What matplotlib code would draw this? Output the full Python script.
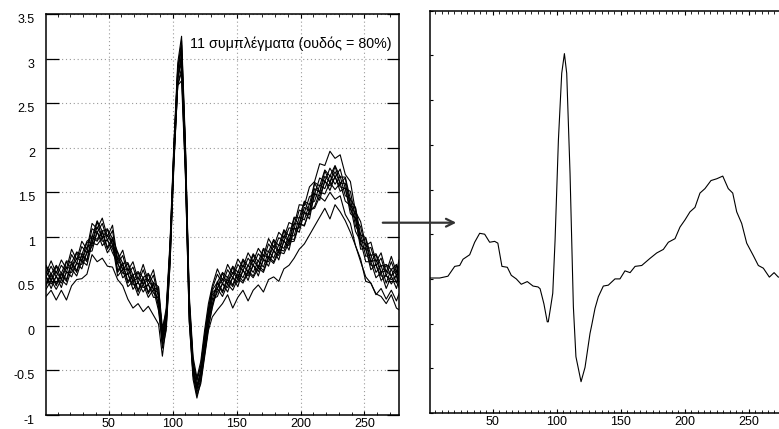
import matplotlib
matplotlib.use("Agg")
import matplotlib.pyplot as plt
from matplotlib.ticker import FixedLocator, FixedFormatter, MultipleLocator

plt.rcParams['font.family'] = ['Liberation Sans', 'DejaVu Sans']

# common sample positions for the 11 beats
x_grid = [1, 5, 9, 13, 17, 21, 25, 29, 33, 37, 41, 45, 49, 53, 57, 61, 65, 69, 73, 77, 81, 85, 89,
          92, 95, 98, 101, 104, 107, 110, 113, 116, 119, 122, 125, 128, 131,
          135, 139, 143, 147, 151, 155, 159, 163, 167, 171, 175, 179, 183, 187, 191, 195, 199, 203,
          207, 211, 215, 219, 223, 227, 231, 235, 239, 243, 247, 251, 255, 259, 263, 267, 271, 275, 277]

beat_1 = [0.61, 0.51, 0.61, 0.52, 0.66, 0.64, 0.76, 0.73, 0.88, 0.93, 1.11, 0.99, 1.02, 0.91, 0.76, 0.63, 0.64, 0.50, 0.54, 0.47, 0.52, 0.41, 0.37,
          -0.08, 0.12, 0.90, 2.00, 2.90, 3.10, 1.95, 0.25, -0.45, -0.70, -0.50, -0.15, 0.15, 0.35,
          0.42, 0.53, 0.47, 0.60, 0.53, 0.68, 0.60, 0.74, 0.65, 0.80, 0.76, 0.90, 0.83, 1.01, 0.94, 1.15, 1.14, 1.33, 1.29,
          1.54, 1.50, 1.68, 1.61, 1.73, 1.60, 1.60, 1.35, 1.26, 0.95, 0.92, 0.72, 0.74, 0.60, 0.62, 0.56, 0.62, 0.52]
beat_2 = [0.55, 0.67, 0.55, 0.68, 0.60, 0.80, 0.70, 0.89, 0.82, 1.09, 1.05, 1.15, 0.96, 1.07, 0.70, 0.79, 0.58, 0.66, 0.48, 0.63, 0.46, 0.57, 0.31,
          -0.15, 0.05, 0.80, 1.90, 2.75, 3.05, 2.00, 0.30, -0.40, -0.62, -0.45, -0.10, 0.20, 0.42,
          0.58, 0.47, 0.63, 0.54, 0.69, 0.62, 0.76, 0.68, 0.81, 0.74, 0.92, 0.84, 0.99, 0.95, 1.10, 1.09, 1.30, 1.27, 1.45,
          1.48, 1.66, 1.62, 1.77, 1.67, 1.76, 1.54, 1.51, 1.20, 1.11, 0.86, 0.88, 0.68, 0.76, 0.56, 0.72, 0.56, 0.68]
beat_3 = [0.55, 0.47, 0.55, 0.48, 0.60, 0.60, 0.70, 0.69, 0.82, 0.89, 1.05, 0.95, 0.96, 0.87, 0.70, 0.59, 0.58, 0.46, 0.48, 0.43, 0.46, 0.37, 0.31,
          -0.10, 0.10, 0.85, 1.95, 2.80, 2.95, 1.80, 0.15, -0.50, -0.68, -0.55, -0.25, 0.05, 0.25,
          0.38, 0.47, 0.43, 0.54, 0.49, 0.62, 0.56, 0.68, 0.61, 0.74, 0.72, 0.84, 0.79, 0.95, 0.90, 1.09, 1.10, 1.27, 1.25,
          1.48, 1.46, 1.62, 1.57, 1.67, 1.56, 1.54, 1.31, 1.20, 0.91, 0.86, 0.68, 0.68, 0.56, 0.56, 0.52, 0.56, 0.48]
beat_4 = [0.59, 0.73, 0.59, 0.74, 0.64, 0.86, 0.74, 0.95, 0.86, 1.15, 1.09, 1.21, 1.00, 1.13, 0.74, 0.85, 0.62, 0.72, 0.52, 0.69, 0.50, 0.63, 0.35,
          -0.05, 0.20, 0.95, 2.05, 2.95, 3.25, 2.05, 0.35, -0.35, -0.58, -0.40, -0.05, 0.25, 0.45,
          0.64, 0.51, 0.69, 0.58, 0.75, 0.66, 0.82, 0.72, 0.87, 0.78, 0.98, 0.88, 1.05, 0.99, 1.16, 1.13, 1.36, 1.35, 1.56,
          1.62, 1.82, 1.80, 1.96, 1.88, 1.92, 1.70, 1.62, 1.28, 1.17, 0.90, 0.94, 0.72, 0.82, 0.60, 0.78, 0.60, 0.74]
beat_5 = [0.41, 0.51, 0.41, 0.52, 0.46, 0.64, 0.56, 0.73, 0.68, 0.93, 0.91, 0.99, 0.82, 0.91, 0.56, 0.63, 0.44, 0.50, 0.34, 0.47, 0.32, 0.41, 0.17,
          -0.20, 0.00, 0.75, 1.85, 2.70, 2.85, 1.75, 0.10, -0.55, -0.75, -0.60, -0.30, 0.00, 0.20,
          0.42, 0.33, 0.47, 0.40, 0.53, 0.48, 0.60, 0.54, 0.65, 0.60, 0.76, 0.70, 0.83, 0.81, 0.94, 0.95, 1.14, 1.13, 1.29,
          1.34, 1.50, 1.48, 1.61, 1.53, 1.60, 1.40, 1.35, 1.06, 0.95, 0.72, 0.72, 0.54, 0.60, 0.42, 0.56, 0.42, 0.52]
beat_6 = [0.67, 0.51, 0.67, 0.52, 0.72, 0.64, 0.82, 0.73, 0.94, 0.93, 1.17, 0.99, 1.08, 0.91, 0.82, 0.63, 0.70, 0.50, 0.60, 0.47, 0.58, 0.41, 0.43,
          -0.02, 0.15, 0.90, 2.00, 2.85, 3.15, 1.95, 0.25, -0.45, -0.72, -0.52, -0.18, 0.12, 0.38,
          0.42, 0.59, 0.47, 0.66, 0.53, 0.74, 0.60, 0.80, 0.65, 0.86, 0.76, 0.96, 0.83, 1.07, 0.94, 1.21, 1.14, 1.39, 1.29,
          1.60, 1.50, 1.74, 1.61, 1.79, 1.60, 1.66, 1.35, 1.32, 0.95, 0.98, 0.72, 0.80, 0.60, 0.68, 0.56, 0.68, 0.52]
beat_7 = [0.47, 0.59, 0.47, 0.60, 0.52, 0.72, 0.62, 0.81, 0.74, 1.01, 0.97, 1.07, 0.88, 0.99, 0.62, 0.71, 0.50, 0.58, 0.40, 0.55, 0.38, 0.49, 0.23,
          -0.25, -0.05, 0.70, 1.80, 2.70, 2.90, 1.70, 0.05, -0.60, -0.81, -0.62, -0.32, -0.02, 0.22,
          0.50, 0.39, 0.55, 0.46, 0.61, 0.54, 0.68, 0.60, 0.73, 0.66, 0.84, 0.76, 0.91, 0.87, 1.02, 1.01, 1.22, 1.19, 1.37,
          1.40, 1.58, 1.54, 1.69, 1.59, 1.68, 1.46, 1.43, 1.12, 1.03, 0.78, 0.80, 0.60, 0.68, 0.48, 0.64, 0.48, 0.60]
beat_8 = [0.68, 0.58, 0.68, 0.59, 0.73, 0.71, 0.83, 0.80, 0.95, 1.00, 1.18, 1.06, 1.09, 0.98, 0.83, 0.70, 0.71, 0.57, 0.61, 0.54, 0.59, 0.48, 0.44,
          -0.12, 0.12, 0.88, 1.98, 2.88, 3.20, 2.00, 0.28, -0.42, -0.60, -0.45, -0.12, 0.18, 0.40,
          0.49, 0.60, 0.54, 0.67, 0.60, 0.75, 0.67, 0.81, 0.72, 0.87, 0.83, 0.97, 0.90, 1.08, 1.01, 1.22, 1.21, 1.40, 1.36,
          1.61, 1.57, 1.75, 1.68, 1.80, 1.67, 1.67, 1.42, 1.33, 1.02, 0.99, 0.79, 0.81, 0.67, 0.69, 0.63, 0.69, 0.59]
beat_9 = [0.56, 0.42, 0.56, 0.43, 0.61, 0.55, 0.71, 0.64, 0.83, 0.84, 1.06, 0.90, 0.97, 0.82, 0.71, 0.54, 0.59, 0.41, 0.49, 0.38, 0.47, 0.32, 0.32,
          -0.18, 0.05, 0.80, 1.90, 2.78, 3.00, 1.82, 0.18, -0.50, -0.70, -0.58, -0.22, 0.08, 0.30,
          0.33, 0.48, 0.38, 0.55, 0.44, 0.63, 0.51, 0.69, 0.56, 0.75, 0.67, 0.85, 0.74, 0.96, 0.85, 1.10, 1.05, 1.28, 1.20,
          1.49, 1.41, 1.63, 1.52, 1.68, 1.51, 1.55, 1.26, 1.21, 0.86, 0.87, 0.63, 0.69, 0.51, 0.57, 0.47, 0.57, 0.43]
beat_10 = [0.33, 0.40, 0.29, 0.40, 0.29, 0.45, 0.52, 0.53, 0.58, 0.80, 0.72, 0.76, 0.67, 0.66, 0.52, 0.45, 0.30, 0.20, 0.25, 0.16, 0.22, 0.12, 0.02,
           -0.34, 0.00, 0.70, 1.85, 2.70, 2.75, 1.70, 0.05, -0.55, -0.78, -0.65, -0.35, -0.05, 0.10,
           0.18, 0.25, 0.35, 0.20, 0.32, 0.40, 0.28, 0.40, 0.46, 0.38, 0.52, 0.55, 0.50, 0.64, 0.68, 0.76, 0.86, 0.92, 1.02,
           1.12, 1.22, 1.32, 1.20, 1.36, 1.28, 1.18, 1.05, 0.90, 0.72, 0.55, 0.48, 0.36, 0.33, 0.25, 0.35, 0.20, 0.18]
beat_11 = [0.45, 0.57, 0.45, 0.58, 0.50, 0.70, 0.60, 0.79, 0.72, 0.99, 0.95, 1.05, 0.86, 0.97, 0.60, 0.69, 0.48, 0.56, 0.38, 0.53, 0.36, 0.47, 0.21,
           -0.10, 0.08, 0.82, 1.92, 2.80, 3.05, 1.88, 0.20, -0.48, -0.66, -0.52, -0.20, 0.10, 0.30,
           0.48, 0.37, 0.52, 0.44, 0.58, 0.50, 0.62, 0.56, 0.68, 0.62, 0.78, 0.72, 0.86, 0.84, 0.98, 0.97, 1.15, 1.12, 1.30,
           1.32, 1.45, 1.40, 1.50, 1.42, 1.46, 1.25, 1.15, 0.90, 0.75, 0.50, 0.48, 0.35, 0.42, 0.30, 0.40, 0.28, 0.36]
beats = [beat_1, beat_2, beat_3, beat_4, beat_5, beat_6, beat_7, beat_8, beat_9, beat_10, beat_11]

# averaged beat (right panel)
avg_x = [1, 2, 8.6, 15, 20.3, 24.2, 26.8, 32, 35.9, 39.8, 43.7, 47.6, 51.5, 54, 57.2, 61.4, 64.5, 68.4,
         72.3, 77, 81.5, 85.4, 87, 89.3, 90, 92.6, 93.4, 95.3, 96.9, 98.7, 101.3, 103.9, 106, 107.8, 110.4,
         113, 115, 119, 122.1, 126, 127.3, 129.9, 132.5, 136.4, 140.3, 145.5, 149.4, 153.3, 157.3, 161.2,
         166.4, 172.9, 178.1, 183.3, 187.2, 192.4, 196.3, 200.2, 204.1, 208, 211.9, 215.8, 220.5, 225,
         229.7, 234, 237.5, 240.6, 244.5, 248.4, 253.6, 257.5, 261.4, 266.1, 269.8, 273.1, 277]
avg_y = [0.51, 0.51, 0.51, 0.53, 0.64, 0.65, 0.72, 0.77, 0.91, 1.01, 1.00, 0.91, 0.92, 0.90, 0.64, 0.63, 0.54, 0.50,
         0.44, 0.47, 0.42, 0.41, 0.39, 0.26, 0.22, 0.02, 0.02, 0.19, 0.34, 0.93, 2.05, 2.80, 3.02, 2.80, 1.68,
         0.19, -0.37, -0.65, -0.49, -0.11, -0.02, 0.17, 0.30, 0.42, 0.43, 0.50, 0.50, 0.59, 0.57, 0.64,
         0.65, 0.73, 0.79, 0.83, 0.91, 0.95, 1.08, 1.16, 1.25, 1.30, 1.46, 1.51, 1.60, 1.62,
         1.65, 1.51, 1.46, 1.25, 1.12, 0.90, 0.76, 0.65, 0.62, 0.52, 0.57, 0.52, 0.52]

x_ticks = [50, 100, 150, 200, 250]
x_tick_labels = ['50', '100', '150', '200', '250']
y_ticks = [-1, -0.5, 0, 0.5, 1, 1.5, 2, 2.5, 3, 3.5]
y_tick_labels = ['-1', '-0.5', '0', '0.5', '1', '1.5', '2', '2.5', '3', '3.5']
annotation = '11 συμπλέγματα (ουδός = 80%)'

W, H = 779, 429
fig = plt.figure(figsize=(W / 100, H / 100), dpi=100)

def pix_axes(x0, y0, x1, y1):
    return fig.add_axes([x0 / W, 1 - y1 / H, (x1 - x0) / W, (y1 - y0) / H])

ax1 = pix_axes(46, 14, 399, 415)
ax2 = pix_axes(430, 10.7, 783.3, 413)

for b in beats:
    ax1.plot(x_grid, b, color='black', lw=0.8)
ax2.plot(avg_x, avg_y, color='black', lw=0.8)

for ax in (ax1, ax2):
    ax.set_xlim(1, 277)
    ax.set_ylim(-1, 3.5)
    for s in ax.spines.values():
        s.set_linewidth(1.1)
    ax.xaxis.set_major_locator(FixedLocator(x_ticks))
    ax.xaxis.set_major_formatter(FixedFormatter(x_tick_labels))
    ax.yaxis.set_major_locator(FixedLocator(y_ticks))
    ax.tick_params(axis='x', which='major', direction='in', length=3, width=0.8,
                   top=True, bottom=True, labelsize=9, pad=2.5)
    ax.tick_params(axis='x', which='minor', direction='in', length=2, width=0.6,
                   top=True, bottom=True)

ax1.xaxis.set_minor_locator(MultipleLocator(10))
ax2.xaxis.set_minor_locator(MultipleLocator(5))

ax1.yaxis.set_major_formatter(FixedFormatter(y_tick_labels))
ax1.tick_params(axis='y', which='major', direction='in', length=9, width=0.9,
                left=True, right=True, labelsize=9, pad=8)
for lab in ax1.get_yticklabels():
    lab.set_verticalalignment('top')
ax1.grid(True, which='major', color='#999999', linestyle=(0, (1, 2.5)), linewidth=0.8)

ax2.tick_params(axis='y', which='major', direction='in', length=2.5, width=0.8,
                left=True, right=True, labelleft=False)

ax1.text(113.5, 3.17, annotation, ha='left', va='center', fontsize=10.3)

fig.add_artist(matplotlib.patches.FancyArrowPatch(
    (380 / W, 1 - 222.7 / H), (459 / W, 1 - 222.7 / H), transform=fig.transFigure,
    arrowstyle='->', mutation_scale=14, lw=1.6, color='#333333'))

fig.savefig('out.png', dpi=100)
